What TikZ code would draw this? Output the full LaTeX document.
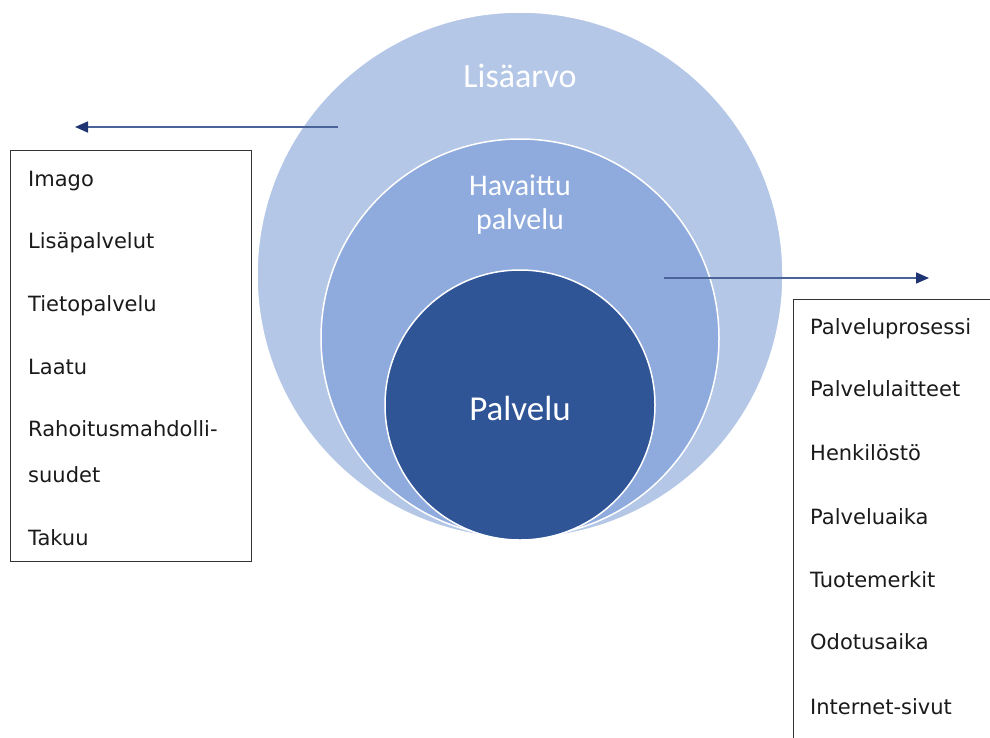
\documentclass[tikz,border=0pt]{standalone}
\usepackage{fontspec}
\setmainfont{DejaVu Sans}
\newfontfamily\calib{Carlito}
\usetikzlibrary{arrows.meta}
\definecolor{outerc}{HTML}{B4C7E7}
\definecolor{midc}{HTML}{8FAADC}
\definecolor{innerc}{HTML}{2F5597}
\definecolor{arrline}{HTML}{4A6399}
\definecolor{arrhead}{HTML}{1F3472}
\definecolor{boxline}{HTML}{333333}
\definecolor{itemtext}{HTML}{1A1A1A}
\begin{document}
\begin{tikzpicture}[x=1pt,y=-1pt,
  ring/.style={circle, draw=white, line width=1.5pt, inner sep=0pt},
  lbl/.style={text=white, inner sep=0pt, align=center},
  conn/.style={draw=arrline, line width=1.6pt, -{Triangle[length=13pt,width=11pt,color=arrhead]}},
  listbox/.style={draw=boxline, line width=1.4pt, inner sep=0pt, anchor=north west},
  item/.style={anchor=base west, inner sep=0pt, text=itemtext, font=\fontsize{21}{25}\selectfont}]
\useasboundingbox (0,0) rectangle (990,737);
% circles
\node[ring, fill=outerc, minimum size=526pt] (outer) at (520,275) {};
\node[ring, fill=midc, minimum size=398pt] (mid) at (520,338) {};
\node[ring, fill=innerc, minimum size=270pt] (inner) at (520,405) {};
% circle labels
\node[lbl, font=\calib\fontsize{34}{40}\selectfont] (lisa) at (520,76) {Lisäarvo};
\node[lbl, font=\calib\fontsize{30}{34}\selectfont] (hav) at (520,205) {Havaittu\\palvelu};
\node[lbl, font=\calib\fontsize{35}{40}\selectfont] (pal) at (520,408) {Palvelu};
% arrows
\coordinate (la0) at (338,127);
\coordinate (la1) at (75,127);
\coordinate (ra0) at (664,278);
\coordinate (ra1) at (929,278);
\draw[conn] (la0) -- (la1);
\draw[conn] (ra0) -- (ra1);
% boxes
\node[listbox, minimum width=241pt, minimum height=411pt] (lbox) at (10,150) {};
\node[listbox, minimum width=260pt, minimum height=500pt] (rbox) at (793,299) {};
% left items
\node[item] (l1) at (28,186) {Imago};
\node[item] (l2) at (28,248) {Lisäpalvelut};
\node[item] (l3) at (28,311) {Tietopalvelu};
\node[item] (l4) at (28,374) {Laatu};
\node[item] (l5) at (28,436) {Rahoitusmahdolli-};
\node[item] (l6) at (28,482) {suudet};
\node[item] (l7) at (28,545) {Takuu};
% right items
\node[item] (r1) at (810,334) {Palveluprosessi};
\node[item] (r2) at (810,396) {Palvelulaitteet};
\node[item] (r3) at (810,460) {Henkilöstö};
\node[item] (r4) at (810,524) {Palveluaika};
\node[item] (r5) at (810,587) {Tuotemerkit};
\node[item] (r6) at (810,649) {Odotusaika};
\node[item] (r7) at (810,714) {Internet-sivut};
\end{tikzpicture}
\end{document}
